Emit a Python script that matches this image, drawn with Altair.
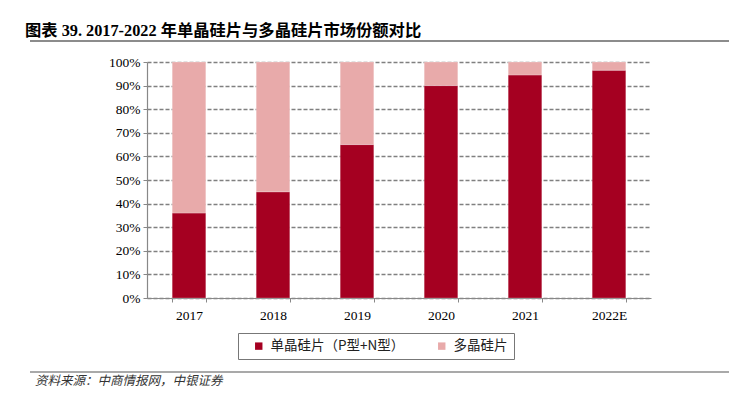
import altair as alt
import pandas as pd

years = ["2017", "2018", "2019", "2020", "2021", "2022E"]
mono = [36, 45, 65, 90, 94.5, 96.5]
poly = [64, 55, 35, 10, 5.5, 3.5]
series = ["单晶硅片（P型+N型）", "多晶硅片"]
colors = ["#A50021", "#E8AAAA"]
y_ticks = [0, 10, 20, 30, 40, 50, 60, 70, 80, 90, 100]
title_text = "图表 39. 2017-2022 年单晶硅片与多晶硅片市场份额对比"
source_text = "资料来源：中商情报网，中银证券"

rows = []
for i, yr in enumerate(years):
    rows.append({"year": yr, "series": series[0], "value": mono[i], "ord": 0})
    rows.append({"year": yr, "series": series[1], "value": poly[i], "ord": 1})
df = pd.DataFrame(rows)

SERIF = "Liberation Serif, Times New Roman, Noto Sans CJK SC"
W, H = 504, 236

bars = alt.Chart(df).mark_bar(stroke="white", strokeWidth=0.4, strokeOpacity=0.6).encode(
    x=alt.X("year:N", sort=years, title=None,
            scale=alt.Scale(paddingInner=0.6, paddingOuter=0.3),
            axis=alt.Axis(labelAngle=0, labelFont=SERIF, labelFontSize=13.5, labelColor="#000",
                          domainColor="#888", domainWidth=1.2, tickColor="#888", tickSize=4,
                          tickBand="extent", labelPadding=6, grid=False)),
    y=alt.Y("value:Q", stack="zero", title=None,
            scale=alt.Scale(domain=[0, 100], nice=False),
            axis=alt.Axis(values=y_ticks, labelExpr="datum.value + '%'", labelFont=SERIF,
                          labelFontSize=13.5, labelColor="#000", domainColor="#888", domainWidth=1.2,
                          tickColor="#888", tickSize=4, labelPadding=3,
                          grid=True, gridColor="#808080", gridDash=[4, 2], gridWidth=1.3)),
    color=alt.Color("series:N", scale=alt.Scale(domain=series, range=colors), sort=series,
                    legend=alt.Legend(title=None, orient="none", legendX=91, legendY=271,
                                      direction="horizontal", strokeColor="#777", padding=6,
                                      symbolType="square", symbolSize=55, symbolStrokeWidth=0,
                                      labelFont="Noto Sans CJK SC", labelFontSize=13.5,
                                      labelColor="#222", columnPadding=22, symbolOffset=8,
                                      labelOffset=5)),
    order=alt.Order("ord:Q", sort="ascending"),
)

title = alt.Chart(pd.DataFrame({"t": [title_text]})).mark_text(
    align="left", baseline="middle", fontWeight="bold", fontSize=16.3,
    font="Liberation Serif, Noto Sans CJK SC", color="#000"
).encode(text="t:N", x=alt.value(-122), y=alt.value(-31))

top_line = alt.Chart(pd.DataFrame({"a": [0]})).mark_rule(color="#666", strokeWidth=1.5).encode(
    x=alt.value(-117), x2=alt.value(583), y=alt.value(-21))

bottom_line = alt.Chart(pd.DataFrame({"a": [0]})).mark_rule(color="#555", strokeWidth=1.2).encode(
    x=alt.value(-117), x2=alt.value(583), y=alt.value(310))

source = alt.Chart(pd.DataFrame({"t": [source_text]})).mark_text(
    align="left", baseline="middle", fontStyle="italic", fontSize=12.5,
    font="Noto Sans CJK SC", color="#333"
).encode(text="t:N", x=alt.value(-112), y=alt.value(319))

chart = alt.layer(bars, title, top_line, bottom_line, source).properties(
    width=W, height=H,
    autosize=alt.AutoSizeParams(type="none"),
    padding={"left": 139, "top": 54, "right": 78, "bottom": 90},
).configure_view(stroke=None)

chart.save("out.html", embed_options={"renderer": "svg", "actions": False})
